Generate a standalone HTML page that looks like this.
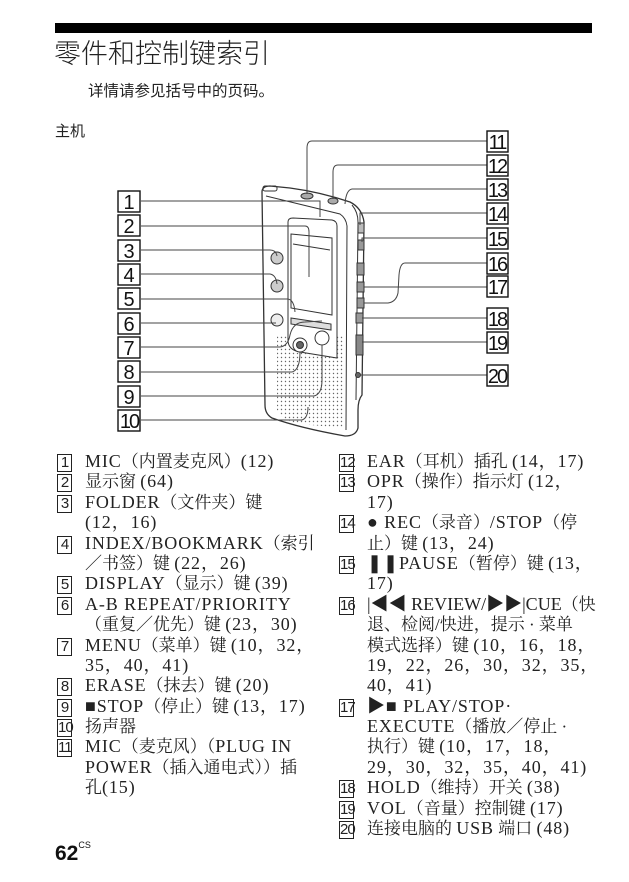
<!DOCTYPE html>
<html><head><meta charset="utf-8">
<style>
html,body{margin:0;padding:0;background:#fff;}
body{width:629px;height:882px;position:relative;overflow:hidden;font-family:"Liberation Serif","Noto Serif CJK SC",serif;color:#222;}
.bar{position:absolute;left:55px;top:23px;width:537px;height:10px;background:#000;}
.title{position:absolute;left:54px;top:32px;font-size:27px;font-family:"Liberation Sans","Noto Sans CJK SC",sans-serif;font-weight:300;color:#222;white-space:nowrap;}
.sub{position:absolute;left:88px;top:79px;font-size:15.5px;font-family:"Liberation Sans","Noto Sans CJK SC",sans-serif;white-space:nowrap;}
.zhuji{position:absolute;left:55px;top:120px;font-size:15px;font-family:"Liberation Sans","Noto Sans CJK SC",sans-serif;}
.col{position:absolute;top:452px;font-size:17px;white-space:nowrap;}
.it{position:relative;padding-left:28px;height:20.4px;line-height:20.4px;}
.l{font-weight:normal;font-size:18px;letter-spacing:0.9px;line-height:10px;}
.n{position:absolute;left:0;top:2px;width:13px;height:16px;border:1.3px solid #222;font-family:"Liberation Sans",sans-serif;font-size:15px;line-height:16px;text-align:center;letter-spacing:-1px;}
.pg{position:absolute;left:55px;top:842px;font-family:"Liberation Sans",sans-serif;font-weight:bold;font-size:21px;color:#111;}
.pg sup{font-size:9px;font-weight:normal;vertical-align:top;position:relative;top:-2px;}
svg{position:absolute;left:0;top:0;}
</style></head><body>
<div class="bar"></div>
<div class="title">零件和控制键索引</div>
<div class="sub">详情请参见括号中的页码。</div>
<div class="zhuji">主机</div>

<svg width="629" height="882" viewBox="0 0 629 882">
<defs>
<pattern id="dots" width="4" height="4" patternUnits="userSpaceOnUse"><circle cx="1.5" cy="1.5" r="0.7" fill="#666"/></pattern>
</defs>
<g fill="none" stroke="#333" stroke-width="1">
<path d="M262,192 Q262,186 270,186 L290,188 Q320,192 350,202 Q362,208 364,222 L362,395 Q358,400 358,410 L358,428 Q356,436 345,436 Q300,428 272,418 Q265,414 265,405 Z" fill="#fff" stroke-width="1.3"/>
<path d="M266,196 L340,214 Q346,218 347,226 L346,430"/>
<path d="M352,205 Q358,212 358,222 L356,400"/>
<path d="M277,335 L343,335 L343,428 L300,424 Q280,420 277,410 Z" fill="url(#dots)" stroke="none"/>
<path d="M288,222 Q288,218 293,218 L332,220 Q337,221 337,226 L337,358 L300,352 Q288,350 288,340 Z" fill="#fff"/>
<path d="M291,234 L332,238 L332,315 L291,308 Z"/>
<path d="M293,244 L330,250"/>
<path d="M291,318 L331,324 L331,330 L291,324 Z" fill="#ddd"/>
<circle cx="277" cy="258" r="6" fill="#ccc"/>
<circle cx="277" cy="286" r="6" fill="#ccc"/>
<circle cx="277" cy="320" r="6" fill="#eee"/>
<circle cx="300" cy="345" r="7" fill="#fff"/><circle cx="300" cy="345" r="3.5" fill="#666"/>
<circle cx="322" cy="338" r="7" fill="#fff"/>
<ellipse cx="307" cy="196" rx="6" ry="3" fill="#aaa"/>
<ellipse cx="333" cy="201" rx="5" ry="3" fill="#aaa"/>
<rect x="263" y="186" width="14" height="5" rx="2"/>
<rect x="358" y="223" width="6" height="10" fill="#bbb"/>
<rect x="358" y="240" width="6" height="10" fill="#999"/>
<rect x="357" y="263" width="7" height="12" fill="#999"/>
<rect x="357" y="282" width="7" height="10" fill="#999"/>
<rect x="357" y="298" width="7" height="10" fill="#999"/>
<rect x="356" y="313" width="7" height="10" fill="#999"/>
<rect x="356" y="335" width="7" height="20" fill="#888"/>
<circle cx="358" cy="375" r="2.5" fill="#666"/>
</g>
<g fill="none" stroke="#444" stroke-width="1">
<path d="M141,201 L320,201 L320,217"/>
<path d="M141,226 L305,226 Q309,226 309,232 L309,277"/>
<path d="M141,250 L270,250 Q276,250 277,256"/>
<path d="M141,274 L270,274 Q276,275 277,284"/>
<path d="M141,299 L288,299 Q294,300 295,312"/>
<path d="M141,323 L276,323"/>
<path d="M141,347 L280,347 Q288,346 290,335 Q293,322 305,322 L322,321"/>
<path d="M141,372 L292,372 Q300,370 300,352"/>
<path d="M141,396 L314,396 Q322,394 322,380 L322,345"/>
<path d="M141,420 L302,420 Q308,418 308,407"/>
<path d="M487,141 L312,141 Q307,141 307,148 L307,194"/>
<path d="M487,165 L338,165 Q333,165 333,172 L333,199"/>
<path d="M487,189 L352,189 Q346,190 345,204"/>
<path d="M487,213 L360,213 L360,225"/>
<path d="M487,238 L362,238 L362,242"/>
<path d="M487,263 L405,263 Q400,263 399,275 L398,293 Q396,302 388,303 L364,303"/>
<path d="M487,287 L364,287"/>
<path d="M487,318 L362,318"/>
<path d="M487,342 L362,342"/>
<path d="M487,375 L361,375"/>
</g>
<g font-family="Liberation Sans, sans-serif" font-size="20" fill="#111" text-anchor="middle">
<g stroke="#111" stroke-width="1.4" fill="#fff">
<rect x="118" y="191" width="22" height="21"/><rect x="118" y="215" width="22" height="21"/>
<rect x="118" y="240" width="22" height="21"/><rect x="118" y="264" width="22" height="21"/>
<rect x="118" y="288" width="22" height="21"/><rect x="118" y="313" width="22" height="21"/>
<rect x="118" y="337" width="22" height="21"/><rect x="118" y="361" width="22" height="21"/>
<rect x="118" y="386" width="22" height="21"/><rect x="118" y="410" width="22" height="21"/>
<rect x="487" y="131" width="21" height="21"/><rect x="487" y="155" width="21" height="21"/>
<rect x="487" y="179" width="21" height="21"/><rect x="487" y="203" width="21" height="21"/>
<rect x="487" y="228" width="21" height="21"/><rect x="487" y="253" width="21" height="21"/>
<rect x="487" y="276" width="21" height="21"/><rect x="487" y="308" width="21" height="21"/>
<rect x="487" y="332" width="21" height="21"/><rect x="487" y="365" width="21" height="21"/>
</g>
<text x="129" y="209">1</text><text x="129" y="233">2</text><text x="129" y="258">3</text>
<text x="129" y="282">4</text><text x="129" y="306">5</text><text x="129" y="331">6</text>
<text x="129" y="355">7</text><text x="129" y="379">8</text><text x="129" y="404">9</text>
<text x="129" y="428" letter-spacing="-2">10</text>
<g letter-spacing="-2">
<text x="497" y="149">11</text><text x="497" y="173">12</text><text x="497" y="197">13</text>
<text x="497" y="221">14</text><text x="497" y="246">15</text><text x="497" y="271">16</text>
<text x="497" y="294">17</text><text x="497" y="326">18</text><text x="497" y="350">19</text>
<text x="497" y="383">20</text>
</g>
</g>
</svg>

<div class="col" style="left:57px;">
<div class="it"><span class="n">1</span><b class="l">MIC</b>（内置麦克风）<b class="l">(12)</b></div>
<div class="it"><span class="n">2</span>显示窗 <b class="l">(64)</b></div>
<div class="it"><span class="n">3</span><b class="l">FOLDER</b>（文件夹）键</div>
<div class="it"><b class="l">(12，16)</b></div>
<div class="it"><span class="n">4</span><b class="l">INDEX/BOOKMARK</b>（索引</div>
<div class="it">／书签）键 <b class="l">(22，26)</b></div>
<div class="it"><span class="n">5</span><b class="l">DISPLAY</b>（显示）键 <b class="l">(39)</b></div>
<div class="it"><span class="n">6</span><b class="l">A-B REPEAT/PRIORITY</b></div>
<div class="it">（重复／优先）键 <b class="l">(23，30)</b></div>
<div class="it"><span class="n">7</span><b class="l">MENU</b>（菜单）键 <b class="l">(10，32，</b></div>
<div class="it"><b class="l">35，40，41)</b></div>
<div class="it"><span class="n">8</span><b class="l">ERASE</b>（抹去）键 <b class="l">(20)</b></div>
<div class="it"><span class="n">9</span><b class="l">■STOP</b>（停止）键 <b class="l">(13，17)</b></div>
<div class="it"><span class="n">10</span>扬声器</div>
<div class="it"><span class="n">11</span><b class="l">MIC</b>（麦克风）（<b class="l">PLUG IN</b></div>
<div class="it"><b class="l">POWER</b>（插入通电式））插</div>
<div class="it">孔<b class="l">(15)</b></div>
</div>

<div class="col" style="left:339px;">
<div class="it"><span class="n">12</span><b class="l">EAR</b>（耳机）插孔 <b class="l">(14，17)</b></div>
<div class="it"><span class="n">13</span><b class="l">OPR</b>（操作）指示灯 <b class="l">(12，</b></div>
<div class="it"><b class="l">17)</b></div>
<div class="it"><span class="n">14</span><b class="l">● REC</b>（录音）<b class="l">/STOP</b>（停</div>
<div class="it">止）键 <b class="l">(13，24)</b></div>
<div class="it"><span class="n">15</span><b class="l">❚❚PAUSE</b>（暂停）键 <b class="l">(13，</b></div>
<div class="it"><b class="l">17)</b></div>
<div class="it"><span class="n">16</span><b class="l" style="letter-spacing:0">|◀◀ REVIEW/▶▶|CUE</b>（快</div>
<div class="it">退、检阅/快进，提示 · 菜单</div>
<div class="it">模式选择）键 <b class="l">(10，16，18，</b></div>
<div class="it"><b class="l">19，22，26，30，32，35，</b></div>
<div class="it"><b class="l">40，41)</b></div>
<div class="it"><span class="n">17</span><b class="l">▶■ PLAY/STOP·</b></div>
<div class="it"><b class="l">EXECUTE</b>（播放／停止 ·</div>
<div class="it">执行）键 <b class="l">(10，17，18，</b></div>
<div class="it"><b class="l">29，30，32，35，40，41)</b></div>
<div class="it"><span class="n">18</span><b class="l">HOLD</b>（维持）开关 <b class="l">(38)</b></div>
<div class="it"><span class="n">19</span><b class="l">VOL</b>（音量）控制键 <b class="l">(17)</b></div>
<div class="it"><span class="n">20</span>连接电脑的 <b class="l">USB</b> 端口 <b class="l">(48)</b></div>
</div>

<div class="pg">62<sup>CS</sup></div>
</body></html>
